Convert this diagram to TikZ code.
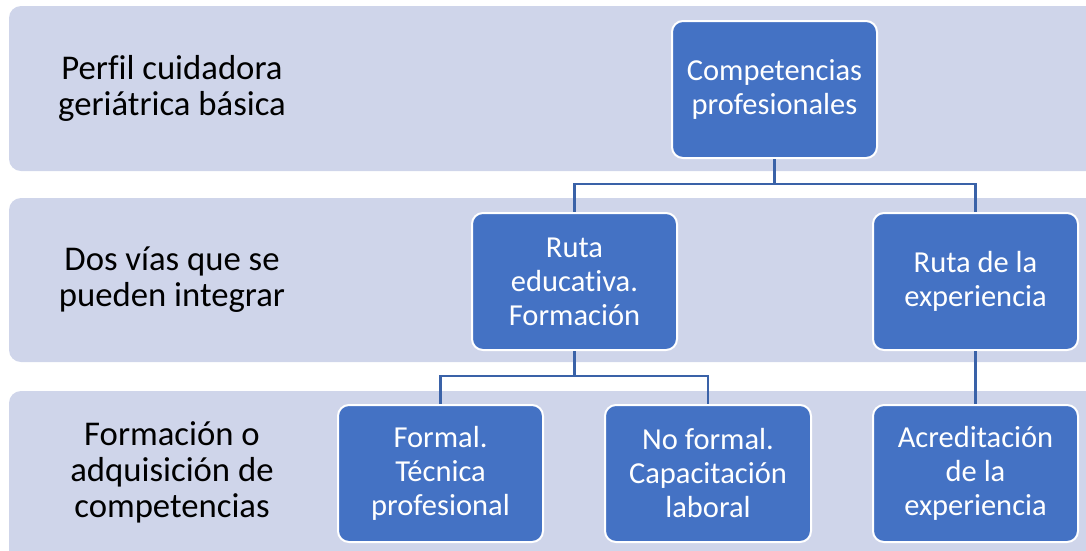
\documentclass[tikz,border=0pt]{standalone}
\usepackage{fontspec}
\setmainfont{Carlito}[Ligatures=NoCommon]
\definecolor{bandc}{HTML}{CFD5EA}
\definecolor{boxc}{HTML}{4472C4}
\definecolor{linec}{HTML}{3A62A8}
\tikzset{
  band/.style={fill=bandc, draw=none, rounded corners=12pt},
  blue box/.style={fill=boxc, draw=white, line width=2pt, rounded corners=11pt,
    minimum width=205pt, minimum height=137pt, inner sep=0pt, text=white,
    align=center, font=\fontsize{30.5pt}{34pt}\selectfont, anchor=north west},
  label/.style={text=black, align=center, font=\fontsize{34.7pt}{36pt}\selectfont},
  conn/.style={draw=linec, line width=2.2pt},
}
\begin{document}
\begin{tikzpicture}[x=1pt,y=-1pt]
\useasboundingbox (0,0) rectangle (1086,550);
% bands
\fill[band] (9,6) rectangle (1100,171);
\fill[band] (9,198) rectangle (1100,362);
\fill[band] (9,391) rectangle (1100,570);
% labels
\node[label] (l1) at (172,88) {Perfil cuidadora\\geriátrica básica};
\node[label] (l2) at (172,280) {Dos vías que se\\pueden integrar};
\node[label] (l3) at (172,472) {Formación o\\adquisición de\\competencias};
% boxes
\node[blue box] (comp) at (671,20) {Competencias\\profesionales};
\node[blue box] (edu) at (471,212) {Ruta\\educativa.\\Formación};
\node[blue box] (exp) at (872,212) {Ruta de la\\experiencia};
\node[blue box] (formal) at (337,404) {Formal.\\Técnica\\profesional};
\node[blue box, minimum width=206pt] (noformal) at (604,404) {No formal.\\Capacitación\\laboral};
\node[blue box] (acred) at (872,404) {Acreditación\\de la\\experiencia};
% connectors
\coordinate (j1) at (comp.south |- 0,184);
\coordinate (j2) at (edu.south |- 0,376);
\draw[conn] (comp.south) -- (j1) -| (edu.north);
\draw[conn] (j1) -| (exp.north);
\draw[conn] (edu.south) -- (j2) -| (formal.north);
\draw[conn] (j2) -| (noformal.north);
\draw[conn] (exp.south) -- (acred.north);
\end{tikzpicture}
\end{document}
